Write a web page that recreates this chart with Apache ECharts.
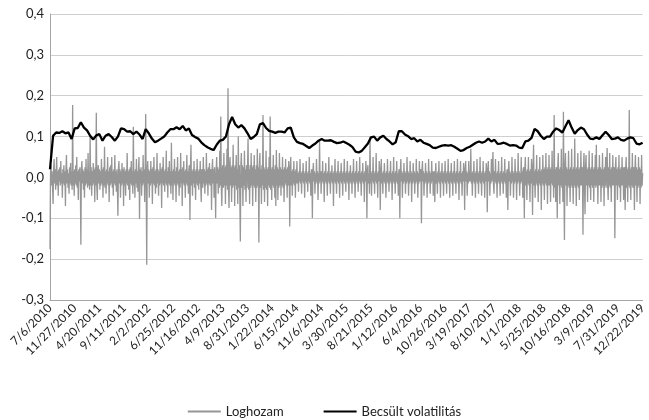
<!DOCTYPE html>
<html>
<head>
<meta charset="utf-8">
<script src="https://cdn.jsdelivr.net/npm/echarts@6/dist/echarts.min.js"></script>
<style>html,body{margin:0;padding:0;background:#fff}#c{width:649px;height:420px}</style>
</head>
<body>
<div id="c"></div>
<script>
// X tick labels (every 144 days from 7/6/2010)
const xTickLabels = ['7/6/2010','11/27/2010','4/20/2011','9/11/2011','2/2/2012','6/25/2012','11/16/2012','4/9/2013','8/31/2013','1/22/2014','6/15/2014','11/6/2014','3/30/2015','8/21/2015','1/12/2016','6/4/2016','10/26/2016','3/19/2017','8/10/2017','1/1/2018','5/25/2018','10/16/2018','3/9/2019','7/31/2019','12/22/2019'];
const yTickLabels = ['-0,3','-0,2','-0,1','0,0','0,1','0,2','0,3','0,4'];
const seriesNames = ['Loghozam','Becsült volatilitás'];
const dayStepTicks = 144;   // days between x labels
const retStep = 3;          // days between return samples
const volStep = 18;         // days between volatility samples

// Loghozam (log return), one sample per 3 days (48 per label interval)
const loghozam = [
-0.175,0.01,0.03,-0.02,0.015,-0.025,-0.065,0.02,0.045,-0.015,0.02,-0.03,0.01,0.05,-0.02,0.015,-0.045,0.02,-0.01,0.025,-0.02,0.04,-0.015,0.01,-0.05,0.02,-0.015,0.03,-0.02,0.015,-0.07,0.02,0.055,-0.015,0.02,-0.025,0.01,-0.04,0.025,-0.015,0.035,-0.02,0.015,-0.03,0.177,-0.02,0.015,-0.045,
0.02,-0.015,0.03,-0.02,0.05,-0.025,0.015,-0.055,0.02,-0.01,0.025,-0.02,-0.165,0.02,0.04,-0.015,0.02,-0.03,0.015,-0.05,0.025,-0.02,0.045,-0.015,0.02,-0.025,0.06,-0.02,0.015,-0.03,0.1,-0.02,0.025,-0.045,0.015,-0.02,0.035,-0.015,0.02,-0.06,0.025,-0.02,0.158,-0.025,-0.055,0.02,0.03,-0.015,
0.02,-0.03,0.015,-0.02,0.045,-0.015,0.02,-0.05,0.025,-0.02,0.075,-0.025,0.015,-0.04,0.02,-0.015,0.05,-0.02,0.015,-0.06,0.025,-0.02,0.03,-0.015,0.05,-0.025,0.015,-0.045,0.02,-0.015,0.055,-0.02,0.015,-0.035,0.02,-0.025,-0.094,0.02,0.04,-0.015,0.02,-0.05,0.015,-0.02,0.035,-0.015,0.02,-0.07,
0.025,-0.02,0.015,-0.045,0.02,-0.015,0.06,-0.02,0.015,-0.03,0.02,-0.055,0.025,-0.015,0.04,-0.02,0.015,-0.04,0.124,-0.02,0.015,-0.05,0.02,-0.015,0.045,-0.025,0.015,-0.035,0.02,0.05,-0.102,0.02,-0.015,0.025,-0.045,0.015,-0.02,0.055,-0.015,0.02,-0.06,0.025,0.155,-0.02,-0.214,0.02,0.04,-0.015,
0.02,-0.05,0.015,-0.02,0.04,-0.015,0.02,-0.065,0.025,-0.015,0.05,-0.02,0.015,-0.04,0.02,-0.025,0.06,-0.015,0.02,-0.045,0.015,-0.02,0.035,-0.015,0.02,-0.075,0.025,-0.015,0.05,-0.02,0.015,-0.035,0.02,-0.015,0.065,-0.02,0.015,-0.05,0.025,-0.015,0.04,-0.02,0.015,-0.04,0.085,-0.02,0.015,-0.055,
0.02,-0.015,0.045,-0.02,0.015,-0.06,0.025,-0.015,0.05,-0.02,0.015,-0.045,0.02,-0.025,0.06,-0.015,0.02,-0.07,0.025,-0.015,0.04,-0.02,0.015,-0.05,0.02,-0.015,0.055,-0.02,0.015,-0.04,0.02,0.03,-0.104,0.02,0.08,-0.02,0.015,-0.045,0.02,-0.015,0.04,-0.025,0.015,-0.055,0.02,-0.015,0.045,-0.02,
0.015,-0.03,0.02,-0.015,0.04,-0.02,-0.06,0.02,0.015,-0.025,0.05,-0.015,0.02,-0.04,0.015,-0.02,0.06,-0.015,0.02,-0.045,0.025,-0.015,0.035,-0.02,0.015,0.02,-0.08,0.02,0.045,-0.015,0.02,-0.05,0.025,-0.02,-0.1,0.02,0.05,-0.015,0.025,-0.04,0.02,-0.025,0.065,-0.02,0.149,-0.025,-0.07,0.02,
0.03,-0.025,0.06,-0.02,0.025,-0.065,0.03,-0.02,0.07,-0.03,0.218,-0.025,-0.075,0.03,0.05,-0.02,0.025,-0.06,0.03,-0.025,0.08,-0.02,0.025,-0.07,0.03,-0.02,0.055,-0.03,0.02,-0.065,0.1,-0.025,0.03,-0.05,-0.157,0.03,0.06,-0.025,0.03,-0.07,0.025,-0.02,0.065,-0.03,0.02,-0.06,0.03,-0.025,
0.025,0.095,-0.03,0.02,-0.065,0.03,-0.025,0.06,-0.02,0.025,-0.07,0.03,-0.02,0.055,-0.025,0.02,-0.06,0.03,-0.025,0.07,-0.02,0.025,-0.159,0.03,0.06,-0.025,0.02,-0.065,0.03,-0.02,0.153,-0.03,0.025,-0.06,0.02,-0.025,0.065,-0.03,0.02,-0.07,0.025,-0.02,0.05,-0.025,0.149,-0.03,0.02,-0.055,
0.025,-0.02,0.055,-0.025,0.02,-0.05,0.03,-0.07,0.067,-0.02,0.025,-0.055,0.02,-0.025,0.06,-0.02,0.025,-0.045,0.02,-0.02,0.05,-0.025,0.02,-0.06,0.025,-0.015,0.045,-0.02,0.02,-0.05,0.025,-0.02,0.04,0.02,-0.12,0.02,0.05,-0.02,0.015,-0.045,0.02,-0.015,0.04,-0.02,0.015,-0.05,0.02,-0.015,
0.04,-0.015,0.01,-0.035,0.015,-0.01,0.045,-0.015,0.01,-0.04,0.015,-0.01,0.035,-0.015,0.01,-0.05,0.015,-0.01,0.04,-0.015,0.01,-0.035,0.015,-0.01,0.05,-0.015,0.01,-0.045,0.015,0.02,-0.1,0.015,0.035,-0.01,0.015,-0.04,0.01,-0.015,0.045,-0.01,0.015,-0.055,0.01,-0.015,0.09,-0.01,0.015,-0.04,
0.015,-0.01,0.04,-0.015,0.01,-0.06,0.015,-0.01,0.035,-0.015,0.01,-0.045,0.015,-0.01,0.05,-0.015,0.01,-0.04,0.015,-0.01,0.03,-0.015,0.01,-0.07,0.015,-0.01,0.045,-0.015,0.01,-0.04,0.015,-0.01,0.04,-0.015,0.01,-0.05,0.015,-0.01,0.035,-0.015,0.01,-0.045,0.015,-0.01,0.045,-0.015,0.01,-0.035,
0.015,-0.01,0.04,-0.015,0.01,-0.055,0.015,-0.01,0.03,-0.015,0.01,-0.04,0.015,-0.01,0.045,-0.015,0.01,-0.05,0.015,-0.01,0.04,-0.015,0.01,-0.035,0.015,-0.01,0.05,-0.015,0.01,-0.045,0.015,-0.01,0.035,-0.015,0.01,-0.06,0.015,-0.01,0.04,0.015,-0.1,0.015,0.03,-0.015,0.01,-0.04,0.1,-0.015,
0.01,-0.045,0.015,-0.01,0.05,-0.015,0.01,-0.04,0.015,-0.01,0.06,-0.015,0.01,-0.05,0.015,-0.01,0.04,0.015,-0.08,0.015,0.045,-0.015,0.01,-0.04,0.015,-0.01,0.035,-0.015,0.01,-0.05,0.015,-0.01,0.045,-0.015,0.01,-0.035,0.015,-0.01,0.04,-0.015,0.01,-0.055,0.015,-0.01,0.05,-0.015,0.01,-0.04,
0.015,-0.01,0.04,-0.015,0.01,-0.045,0.015,0.02,-0.1,0.015,0.045,-0.01,0.015,-0.05,0.01,-0.015,0.035,-0.01,0.015,-0.04,0.01,-0.015,0.05,-0.01,0.015,-0.045,0.01,-0.015,0.04,-0.01,0.015,-0.06,0.01,-0.015,0.035,-0.01,0.015,-0.04,0.01,-0.015,0.045,-0.01,0.015,-0.05,0.01,-0.015,0.04,-0.01,
0.015,0.02,-0.112,0.015,0.04,-0.01,0.015,-0.045,0.01,-0.015,0.035,-0.01,0.015,-0.05,0.01,-0.015,0.045,-0.01,0.015,-0.04,0.01,-0.015,0.04,-0.01,0.015,-0.045,0.01,0.015,-0.06,0.01,0.035,-0.015,0.01,-0.04,0.015,-0.01,0.04,-0.015,0.01,-0.05,0.015,-0.01,0.035,-0.015,0.01,-0.045,0.015,-0.01,
0.04,-0.015,0.01,-0.04,0.015,-0.01,0.045,-0.015,0.01,-0.05,0.015,-0.01,0.035,-0.015,0.01,-0.045,0.015,-0.01,0.04,-0.015,0.01,-0.04,0.015,-0.01,0.045,-0.015,0.01,-0.055,0.015,-0.01,0.04,-0.015,0.01,-0.045,0.015,-0.01,0.035,0.015,-0.08,0.015,0.04,-0.01,0.015,-0.045,0.01,-0.015,0.04,-0.01,
0.015,-0.01,0.07,-0.015,0.01,-0.045,0.015,-0.01,0.04,-0.015,0.01,-0.05,0.015,-0.01,0.045,-0.015,0.01,-0.04,0.015,-0.01,0.05,-0.015,0.01,-0.045,0.015,-0.01,0.04,-0.015,0.01,-0.05,0.015,-0.01,0.035,0.015,-0.085,0.015,0.04,-0.01,0.015,-0.045,0.01,-0.015,0.045,-0.01,0.015,0.062,-0.015,-0.04,
0.015,-0.01,0.045,-0.015,0.01,-0.05,0.015,-0.01,0.04,-0.015,0.01,-0.045,0.015,-0.01,0.05,-0.015,0.01,-0.04,0.015,-0.01,0.045,-0.015,0.01,-0.05,0.015,0.02,-0.08,0.015,0.04,-0.01,0.015,-0.045,0.01,-0.015,0.05,-0.01,0.015,-0.05,0.01,-0.015,0.045,-0.01,0.015,-0.055,0.01,-0.015,0.06,-0.01,
0.015,-0.045,0.01,-0.015,0.05,-0.01,0.015,-0.05,0.02,0.025,-0.1,0.02,0.05,-0.02,0.015,-0.055,0.02,-0.015,0.05,-0.02,0.015,-0.06,0.02,-0.015,0.045,0.02,-0.092,0.02,0.08,-0.02,0.015,-0.05,0.02,-0.015,0.055,-0.02,0.015,-0.06,0.02,-0.015,0.05,-0.02,0.015,-0.08,0.02,-0.015,0.055,-0.02,
0.02,-0.055,0.025,-0.015,0.06,-0.02,0.02,-0.065,0.025,-0.02,0.055,-0.02,0.02,-0.06,0.025,-0.015,0.065,-0.02,0.02,-0.05,0.153,-0.025,0.02,-0.06,0.025,0.02,-0.1,0.025,0.06,-0.02,0.02,-0.065,0.025,-0.02,0.07,-0.025,0.02,-0.06,0.161,-0.025,-0.153,0.025,0.06,-0.02,0.025,-0.07,0.02,-0.02,
0.065,-0.025,0.02,-0.06,0.025,-0.02,0.07,-0.025,0.02,-0.065,0.025,-0.02,0.095,-0.025,0.02,-0.07,0.025,-0.02,0.06,-0.025,0.02,-0.055,0.025,-0.02,0.065,-0.02,0.025,0.02,-0.14,0.025,0.06,-0.02,-0.09,0.025,0.055,-0.02,0.02,-0.06,0.025,-0.02,0.065,-0.025,0.02,-0.055,0.025,-0.02,0.06,-0.025,
0.02,-0.06,0.025,-0.02,0.055,-0.025,0.08,-0.02,0.02,-0.065,0.025,-0.02,0.055,-0.02,0.025,-0.06,0.02,-0.025,0.06,-0.02,0.02,-0.07,0.025,-0.02,0.05,-0.025,0.02,0.072,-0.02,-0.055,0.025,-0.02,0.06,-0.025,0.02,-0.06,0.025,-0.02,0.055,-0.02,0.025,0.02,-0.149,0.025,0.05,-0.02,0.02,-0.055,
0.025,-0.02,0.055,-0.025,0.02,-0.06,0.025,-0.02,0.05,-0.02,0.025,-0.055,0.02,0.025,-0.08,0.02,0.05,-0.025,0.02,-0.06,0.025,-0.02,0.165,-0.025,0.02,-0.055,0.025,-0.02,0.06,-0.025,0.02,0.025,-0.08,0.02,0.055,-0.02,0.025,-0.06,0.02,-0.025,0.05,-0.02,0.025,-0.065,0.02,-0.025,0.055,-0.02,
0.01
];

// Becsült volatilitás (estimated volatility), one sample per 18 days
const volatilitas = [
0.02,0.102,0.11,0.109,0.113,0.108,0.11,0.094,0.12,0.121,0.135,0.122,0.115,0.102,0.093,0.103,0.106,0.09,0.102,0.106,
0.099,0.09,0.1,0.12,0.118,0.112,0.113,0.106,0.112,0.105,0.094,0.118,0.108,0.095,0.086,0.09,0.095,0.1,0.11,0.118,
0.118,0.123,0.118,0.126,0.115,0.12,0.104,0.099,0.095,0.086,0.079,0.074,0.07,0.067,0.08,0.09,0.092,0.1,0.13,0.148,
0.13,0.122,0.128,0.12,0.108,0.094,0.099,0.106,0.13,0.133,0.121,0.114,0.112,0.109,0.112,0.112,0.11,0.12,0.122,0.098,
0.087,0.084,0.082,0.077,0.072,0.078,0.083,0.09,0.094,0.09,0.09,0.091,0.087,0.084,0.085,0.088,0.084,0.08,0.074,0.063,
0.061,0.065,0.074,0.083,0.098,0.1,0.09,0.098,0.102,0.094,0.088,0.081,0.086,0.113,0.113,0.105,0.101,0.094,0.096,0.088,
0.092,0.085,0.082,0.079,0.073,0.072,0.075,0.078,0.079,0.078,0.079,0.075,0.07,0.065,0.067,0.072,0.075,0.08,0.085,0.088,
0.085,0.088,0.095,0.088,0.092,0.082,0.083,0.085,0.082,0.078,0.079,0.078,0.073,0.072,0.088,0.09,0.097,0.119,0.113,0.102,
0.094,0.1,0.1,0.112,0.12,0.116,0.11,0.125,0.14,0.122,0.107,0.116,0.122,0.118,0.105,0.095,0.094,0.098,0.094,0.103,
0.112,0.104,0.094,0.095,0.098,0.092,0.09,0.095,0.098,0.096,0.083,0.081,0.085
];

const FONT = 'Lato, "Noto Sans", sans-serif';
const totalDays = dayStepTicks * (xTickLabels.length - 1);

const chart = echarts.init(document.getElementById('c'), null, {renderer: 'canvas'});
chart.setOption({
  animation: false,
  backgroundColor: '#ffffff',
  textStyle: {fontFamily: FONT},
  grid: {left: 50, right: 1, top: 14, bottom: 120, containLabel: false},
  legend: {
    top: 400,
    left: 'center',
    itemGap: 40,
    itemWidth: 33,
    itemHeight: 2,
    icon: 'rect',
    textStyle: {fontFamily: FONT, fontSize: 13, color: '#222'},
    data: seriesNames
  },
  xAxis: {
    type: 'value',
    min: 0,
    max: totalDays,
    interval: dayStepTicks,
    axisLine: {show: true, onZero: false, lineStyle: {color: '#a6a6a6', width: 1}},
    axisTick: {show: false},
    splitLine: {show: false},
    axisLabel: {
      rotate: 45,
      margin: 6,
      fontSize: 12,
      color: '#222',
      fontFamily: FONT,
      showMinLabel: true,
      showMaxLabel: true,
      formatter: v => xTickLabels[Math.round(v / dayStepTicks)] || ''
    }
  },
  yAxis: {
    type: 'value',
    min: -0.3,
    max: 0.4,
    interval: 0.1,
    axisLine: {show: true, onZero: false, lineStyle: {color: '#a6a6a6', width: 1}},
    axisTick: {show: false},
    splitLine: {show: true, lineStyle: {color: '#cfcfcf', width: 1}},
    axisLabel: {
      margin: 6,
      fontSize: 13,
      color: '#222',
      fontFamily: FONT,
      formatter: v => yTickLabels[Math.round((v + 0.3) / 0.1)]
    }
  },
  series: [
    {
      name: seriesNames[0],
      type: 'line',
      showSymbol: false,
      symbol: 'none',
      data: loghozam.map((v, j) => [j * retStep, v]),
      lineStyle: {color: '#969696', width: 1.3},
      itemStyle: {color: '#969696'},
      z: 2
    },
    {
      name: seriesNames[1],
      type: 'line',
      showSymbol: false,
      symbol: 'none',
      data: volatilitas.map((v, i) => [i * volStep, v]),
      lineStyle: {color: '#000000', width: 2.3},
      itemStyle: {color: '#000000'},
      z: 3
    }
  ]
});
</script>
</body>
</html>
